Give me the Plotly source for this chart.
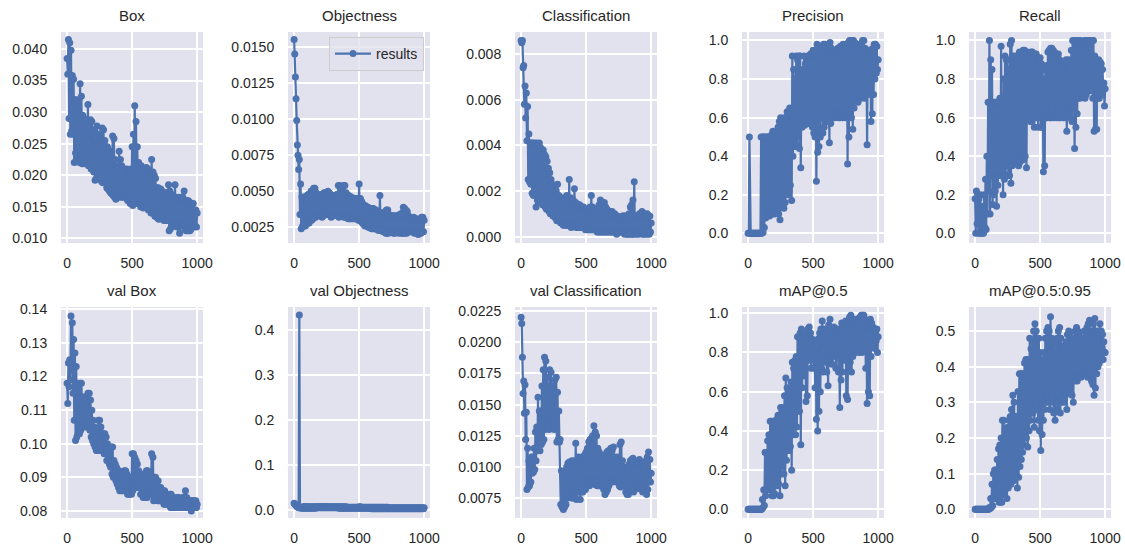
import plotly.graph_objects as go

# upper and lower envelopes: upper at epochs 0,10,...,1000; lower at 5,15,...,995
epochs_hi = list(range(0, 1001, 10))
epochs_lo = list(range(5, 1000, 10))

box_hi = [.0385,.0415,.041,.0398,.0358,.0352,.032,.0315,.031,.032,
 .0345,.0325,.0295,.029,.0285,.028,.0312,.0275,.0288,.0285,
 .0272,.027,.0255,.0278,.0265,.026,.0255,.0275,.0272,.0255,
 .0245,.0245,.024,.0235,.0232,.0262,.0258,.0225,.0215,.021,
 .0238,.0225,.0215,.021,.021,.0205,.021,.0205,.0205,.021,
 .0245,.0265,.031,.0285,.0245,.022,.0215,.0215,.021,.0208,
 .021,.0212,.021,.0205,.0205,.0225,.0205,.02,.0195,.018,
 .018,.0178,.0178,.0175,.0172,.017,.0172,.0172,.0185,.0175,
 .017,.0165,.0165,.0185,.0165,.016,.0165,.016,.0165,.0165,
 .0175,.016,.0158,.016,.0158,.0155,.0155,.0155,.0145,.0145,
 .014]
box_lo = [.036,.029,.0265,.027,.0265,.022,.0235,.0225,.0225,.022,
 .0225,.0218,.022,.0218,.022,.0218,.0215,.0215,.021,.021,
 .0205,.0192,.0195,.0205,.02,.0195,.019,.0188,.0195,.0188,
 .018,.0178,.0175,.0172,.017,.0168,.0165,.0162,.0168,.017,
 .0165,.0168,.0165,.0165,.017,.0168,.016,.016,.0155,.0155,
 .0152,.0158,.0165,.0155,.0155,.0155,.015,.015,.0148,.0152,
 .0155,.0148,.0145,.0145,.014,.014,.014,.0135,.0135,.0132,
 .013,.0132,.0132,.013,.0128,.0128,.0128,.0128,.0112,.0115,
 .012,.012,.012,.012,.0118,.0118,.0108,.012,.012,.012,
 .0115,.0112,.0112,.0112,.0112,.0115,.0118,.012,.012,.0118]

objectness_hi = [.0155,.0129,.0099,.0075,.0072,.0055,.0046,.0045,.0046,.0045,
 .0047,.0048,.0047,.005,.005,.0052,.0052,.0049,.0048,.0047,
 .0047,.0048,.0048,.0049,.0049,.0049,.005,.0049,.0048,.0047,
 .0047,.0047,.0047,.0048,.0054,.0054,.0052,.0052,.0054,.0054,
 .0049,.0047,.0047,.0046,.0046,.0045,.0045,.0045,.0045,.0045,
 .0055,.0045,.0043,.0041,.004,.004,.0039,.0039,.0038,.0038,
 .0038,.0038,.0037,.0037,.0036,.0036,.0047,.0035,.0034,.0035,
 .0036,.0037,.0037,.0034,.0033,.0033,.0033,.0033,.0032,.0033,
 .0033,.0034,.0034,.0035,.0039,.0038,.0037,.0036,.0033,.0031,
 .0031,.003,.0032,.003,.0031,.003,.003,.0031,.0032,.0032,
 .003]
objectness_lo = [.0145,.0114,.0082,.0065,.0034,.0024,.0026,.0026,.0026,.0027,
 .0028,.0028,.003,.003,.0031,.0032,.0032,.0033,.0033,.0033,
 .0033,.0032,.0033,.0034,.0034,.0034,.0035,.0034,.0032,.0033,
 .0033,.0034,.0034,.0033,.0032,.0033,.0033,.0033,.0032,.0032,
 .0032,.0031,.0031,.0031,.0031,.0031,.0031,.0031,.0031,.003,
 .003,.0029,.0028,.0027,.0026,.0026,.0026,.0025,.0025,.0024,
 .0024,.0024,.0024,.0024,.0023,.0023,.0023,.0023,.0022,.0022,
 .0021,.0021,.0021,.0022,.0022,.0022,.0021,.0021,.0022,.0022,
 .0021,.0022,.0021,.0021,.0021,.0021,.0021,.0022,.0022,.0022,
 .0022,.0022,.0021,.0022,.0021,.002,.0021,.0021,.0022,.0022]

classification_hi = [.0086,.0086,.0075,.0066,.0063,.0057,.0045,.0041,.0041,.0041,
 .0041,.004,.0041,.004,.0041,.0039,.0038,.0038,.0036,.0035,
 .0033,.003,.0028,.0025,.0023,.0021,.002,.002,.0023,.0018,
 .0017,.0017,.0016,.0015,.0016,.0018,.0017,.0025,.0017,.0016,
 .0016,.0021,.0015,.0014,.0014,.0014,.0013,.0013,.0013,.0012,
 .0012,.0012,.0012,.0013,.0018,.0013,.0012,.0012,.0012,.0012,
 .0014,.0016,.0015,.0014,.0015,.0013,.0012,.0011,.0011,.0011,
 .0011,.001,.001,.0009,.0009,.0008,.0008,.0008,.0009,.0009,
 .0009,.0009,.0009,.001,.0013,.0014,.0016,.0024,.0009,.0009,
 .0009,.001,.001,.0011,.001,.001,.0009,.001,.0009,.0009,
 .0006]
classification_lo = [.0085,.0074,.0058,.0052,.0042,.0025,.0024,.0023,.0019,.0018,
 .002,.0013,.0016,.0016,.0015,.0015,.0014,.0014,.0013,.0012,
 .0012,.0011,.001,.001,.0009,.0009,.0008,.0007,.0007,.0007,
 .0006,.0006,.0005,.0005,.0005,.0005,.0005,.0005,.0004,.0005,
 .0005,.0005,.0004,.0004,.0004,.0004,.0004,.0004,.0004,.0003,
 .0003,.0003,.0003,.0003,.0003,.0003,.0003,.0003,.0002,.0002,
 .0002,.0002,.0002,.0002,.0002,.0002,.0002,.0002,.0002,.0002,
 .0002,.0002,.0002,.0001,.0002,.0002,.0002,.0002,.0002,.0001,
 .0002,.0001,.0001,.0002,.0001,.0001,.0001,.0002,.0001,.0002,
 .0001,.0002,.0002,.0001,.0001,.0002,.0001,.0002,.0001,.0002]

precision_hi = [0,.5,0,0,0,0,0,0,0,0,
 .5,.5,.5,.5,.5,.5,.5,.5,.51,.53,
 .52,.52,.53,.55,.58,.6,.58,.58,.6,.6,
 .63,.62,.65,.62,.92,.85,.8,.92,.9,.92,
 .92,.82,.85,.92,.88,.9,.92,.92,.93,.93,
 .95,.93,.95,.98,.97,.93,.92,.95,.98,.98,
 .96,.95,.97,.99,.96,.95,.94,.95,.95,.96,
 .95,.97,.96,.98,.97,.97,.98,.99,1,1,
 1,1,.99,.97,.97,.98,.97,.98,1,1,
 .96,.94,.93,.95,.95,.94,.96,.98,.98,.97,
 .9]
precision_lo = [0,0,0,0,0,0,0,0,0,0,
 0,.005,.03,.08,.1,.1,.09,.1,.1,.12,
 .1,.14,.12,.1,.07,.16,.18,.13,.16,.2,
 .2,.22,.25,.17,.4,.45,.45,.46,.5,.44,
 .34,.55,.6,.56,.58,.58,.57,.57,.58,.55,
 .52,.5,.27,.42,.45,.5,.6,.52,.55,.58,
 .6,.58,.47,.57,.6,.62,.6,.62,.62,.6,
 .6,.62,.6,.62,.6,.62,.36,.5,.62,.6,
 .54,.65,.7,.7,.68,.7,.7,.72,.75,.7,
 .72,.46,.72,.75,.58,.62,.72,.8,.83,.85]

recall_hi = [.18,.22,.2,.18,.2,.14,.1,.2,.28,.4,
 .68,1.0,.9,.85,.68,.68,.68,.68,.68,.7,
 .97,.7,.8,.92,.9,.9,.85,.98,1.0,.92,
 .9,.92,.88,.9,.94,.93,.94,.95,.95,.94,
 .94,.9,.93,.94,.94,.92,.93,.93,.88,.9,
 .91,.88,.85,.8,.85,.87,.94,.95,.96,.96,
 .95,.94,.93,.92,.93,.9,.85,.88,.85,.88,
 .9,.88,.9,.85,.95,1,1,.98,1,1,
 1,1,.98,.96,1,1,1,1,1,1,
 1,1,.92,.9,.88,.9,.89,.88,.85,.78,
 .75]
recall_lo = [0,.05,0,0,0,0,0,.03,.02,.1,
 .22,.1,.3,.15,.2,.22,.14,.25,.3,.3,
 .3,.2,.28,.3,.35,.3,.3,.26,.35,.4,
 .38,.36,.36,.35,.37,.4,.38,.4,.4,.34,
 .6,.6,.58,.58,.6,.55,.6,.6,.55,.6,
 .55,.55,.32,.35,.6,.6,.62,.6,.6,.65,
 .6,.62,.6,.62,.6,.6,.62,.6,.6,.65,
 .53,.62,.65,.6,.58,.65,.44,.55,.62,.7,
 .7,.72,.72,.75,.7,.72,.75,.76,.74,.75,
 .7,.53,.54,.54,.7,.7,.72,.72,.75,.66]

val_box_hi = [.118,.124,.125,.138,.136,.131,.127,.123,.118,.116,
 .118,.118,.114,.112,.112,.114,.115,.115,.113,.11,
 .107,.105,.104,.102,.107,.107,.105,.103,.103,.103,
 .102,.1,.099,.098,.099,.099,.095,.094,.093,.092,
 .092,.091,.09,.091,.092,.092,.091,.09,.09,.089,
 .097,.097,.096,.095,.094,.092,.09,.089,.09,.091,
 .09,.092,.092,.09,.091,.097,.096,.09,.09,.088,
 .089,.087,.087,.086,.086,.086,.085,.085,.084,.085,
 .085,.084,.082,.083,.084,.084,.084,.083,.083,.084,
 .084,.086,.084,.083,.083,.083,.083,.083,.083,.083,
 .082]
val_box_lo = [.112,.117,.119,.122,.115,.107,.101,.102,.103,.103,
 .104,.105,.105,.106,.105,.106,.106,.104,.102,.101,
 .1,.099,.098,.098,.098,.099,.098,.098,.097,.097,
 .095,.095,.094,.093,.091,.09,.09,.089,.088,.087,
 .086,.086,.086,.086,.086,.086,.085,.085,.085,.085,
 .086,.087,.087,.088,.087,.087,.085,.085,.084,.085,
 .084,.084,.085,.085,.085,.085,.083,.084,.084,.083,
 .083,.083,.083,.083,.082,.082,.082,.082,.082,.081,
 .081,.082,.081,.081,.081,.082,.081,.081,.081,.081,
 .081,.081,.081,.081,.081,.08,.081,.081,.081,.081]

val_objectness_hi = [.015,.012,.008,.006,.433,.006,.006,.007,.008,.007,
 .007,.007,.007,.007,.007,.007,.007,.007,.007,.007,
 .008,.008,.008,.008,.008,.007,.007,.007,.007,.007,
 .007,.007,.007,.007,.007,.007,.007,.007,.007,.007,
 .007,.006,.006,.006,.006,.006,.006,.006,.006,.006,
 .007,.007,.006,.006,.006,.006,.006,.006,.006,.006,
 .006,.006,.006,.006,.006,.006,.006,.006,.006,.006,
 .006,.006,.006,.005,.005,.005,.005,.005,.005,.005,
 .005,.005,.005,.005,.005,.005,.005,.005,.005,.005,
 .005,.005,.005,.005,.005,.005,.005,.005,.005,.005,
 .005]
val_objectness_lo = [.014,.01,.007,.005,.005,.004,.004,.004,.004,.004,
 .004,.004,.004,.004,.004,.004,.004,.005,.005,.005,
 .005,.005,.005,.005,.005,.005,.005,.005,.005,.005,
 .005,.005,.005,.005,.004,.004,.004,.004,.004,.004,
 .004,.004,.004,.004,.004,.004,.004,.004,.004,.004,
 .004,.004,.004,.004,.004,.004,.004,.004,.004,.003,
 .003,.003,.003,.003,.003,.003,.003,.003,.003,.003,
 .003,.003,.003,.003,.003,.003,.003,.003,.003,.003,
 .003,.003,.003,.003,.003,.003,.003,.003,.003,.003,
 .003,.003,.003,.003,.003,.003,.003,.003,.003,.003]

val_classification_hi = [.022,.0188,.0169,.0166,.0144,.0115,.0105,.0105,.0108,.0108,
 .0115,.0128,.0132,.0156,.0145,.0145,.0165,.0178,.0188,.0185,
 .0172,.0165,.0178,.0176,.0165,.016,.017,.0172,.016,.0145,
 .0122,.0097,.0092,.0096,.0095,.01,.0103,.0104,.0102,.0105,
 .0103,.0105,.0119,.0105,.0108,.0107,.0105,.0108,.0108,.011,
 .0112,.0115,.012,.0122,.0123,.0125,.0133,.0128,.0125,.0115,
 .0112,.011,.0108,.0105,.0108,.011,.0112,.0113,.0112,.0115,
 .0113,.0116,.0108,.0105,.0108,.0105,.0118,.012,.0105,.01,
 .0097,.0098,.0098,.0102,.0105,.0106,.0107,.0102,.01,.0098,
 .0105,.0106,.0102,.01,.0103,.0098,.0105,.0108,.0112,.0106,
 .0095]
val_classification_lo = [.0215,.0159,.0143,.0122,.0082,.0084,.0085,.0088,.0095,.0096,
 .0098,.0105,.0113,.0115,.0113,.0118,.012,.0122,.013,.0135,
 .0138,.013,.0135,.0138,.0132,.013,.0132,.012,.0122,.012,
 .007,.0068,.0066,.0068,.007,.0075,.0078,.0078,.0078,.0075,
 .008,.0078,.0074,.008,.0082,.0074,.008,.008,.0082,.0082,
 .0088,.0085,.0085,.0088,.009,.0088,.0086,.0088,.0085,.0085,
 .0085,.0088,.0085,.0082,.0078,.008,.0082,.0085,.0088,.009,
 .0088,.009,.009,.0088,.0088,.0085,.0084,.0086,.0085,.0085,
 .008,.0078,.0078,.008,.0085,.0082,.008,.0082,.0085,.0083,
 .0085,.0083,.0082,.008,.0084,.0082,.0078,.0082,.0088,.0088]

map50_hi = [0,0,0,0,0,0,0,0,0,0,
 0,.05,.1,.29,.29,.35,.38,.45,.45,.43,
 .45,.44,.46,.48,.48,.52,.5,.52,.58,.67,
 .62,.6,.58,.65,.75,.72,.76,.78,.88,.88,
 .9,.92,.88,.9,.88,.9,.92,.93,.9,.87,
 .86,.85,.86,.82,.87,.9,.92,.96,.92,.88,
 .9,.92,.94,.97,.92,.9,.93,.92,.9,.92,
 .88,.92,.95,.93,.95,.96,.94,.94,.98,.99,
 .96,.94,.95,.97,.97,.96,.98,.99,.99,.99,
 .97,.95,.93,.94,.97,.95,.93,.92,.9,.92,
 .88]
map50_lo = [0,0,0,0,0,0,0,0,0,0,
 0,.01,.02,.07,.1,.13,.1,.12,.07,.07,
 .08,.12,.12,.13,.07,.18,.22,.18,.12,.25,
 .3,.3,.32,.2,.38,.42,.38,.42,.5,.5,
 .33,.62,.68,.7,.55,.58,.78,.76,.72,.78,
 .72,.62,.46,.4,.5,.6,.72,.7,.78,.75,
 .7,.63,.78,.75,.74,.78,.8,.72,.8,.7,
 .52,.66,.7,.78,.76,.58,.56,.72,.75,.7,
 .78,.8,.8,.82,.82,.8,.82,.8,.82,.84,
 .72,.54,.6,.58,.78,.84,.85,.82,.86,.8]

map5095_hi = [0,0,0,0,0,0,0,0,0,0,
 0,.005,.03,.07,.1,.11,.11,.14,.17,.18,
 .2,.25,.25,.22,.22,.23,.25,.26,.28,.32,
 .3,.26,.26,.33,.38,.38,.38,.38,.41,.42,
 .42,.42,.48,.45,.47,.5,.52,.5,.48,.48,
 .44,.42,.41,.44,.48,.5,.51,.5,.54,.48,
 .47,.44,.46,.48,.5,.51,.48,.44,.45,.46,
 .47,.49,.5,.49,.46,.47,.48,.5,.51,.5,
 .49,.48,.47,.48,.5,.5,.51,.52,.53,.5,
 .5,.52,.535,.5,.48,.5,.52,.5,.49,.47,
 .44]
map5095_lo = [0,0,0,0,0,0,0,0,0,0,
 0,.002,.005,.01,.03,.04,.03,.04,.02,.02,
 .02,.04,.05,.06,.03,.06,.07,.07,.08,.08,
 .1,.09,.06,.09,.12,.14,.16,.18,.2,.2,
 .175,.22,.25,.27,.27,.23,.3,.28,.25,.22,
 .165,.21,.25,.28,.3,.32,.3,.28,.32,.3,
 .27,.25,.3,.28,.3,.27,.3,.32,.3,.32,
 .28,.33,.35,.34,.32,.3,.36,.37,.36,.37,
 .38,.37,.38,.38,.38,.38,.37,.39,.38,.36,
 .35,.32,.34,.38,.4,.41,.42,.42,.42,.44]

titles = ["Box","Objectness","Classification","Precision","Recall",
          "val Box","val Objectness","val Classification","mAP@0.5","mAP@0.5:0.95"]
series = [(box_hi,box_lo),(objectness_hi,objectness_lo),(classification_hi,classification_lo),
          (precision_hi,precision_lo),(recall_hi,recall_lo),
          (val_box_hi,val_box_lo),(val_objectness_hi,val_objectness_lo),
          (val_classification_hi,val_classification_lo),(map50_hi,map50_lo),(map5095_hi,map5095_lo)]
y_ticks = [
 ["0.010","0.015","0.020","0.025","0.030","0.035","0.040"],
 ["0.0025","0.0050","0.0075","0.0100","0.0125","0.0150"],
 ["0.000","0.002","0.004","0.006","0.008"],
 ["0.0","0.2","0.4","0.6","0.8","1.0"],
 ["0.0","0.2","0.4","0.6","0.8","1.0"],
 ["0.08","0.09","0.10","0.11","0.12","0.13","0.14"],
 ["0.0","0.1","0.2","0.3","0.4"],
 ["0.0075","0.0100","0.0125","0.0150","0.0175","0.0200","0.0225"],
 ["0.0","0.2","0.4","0.6","0.8","1.0"],
 ["0.0","0.1","0.2","0.3","0.4","0.5"],
]
y_ranges = [[.00925,.0427],[.00142,.01602],[-.00028,.00897],[-.05,1.044],[-.05,1.044],
            [.0779,.1407],[-.0178,.451],[.00592,.02282],[-.044,1.032],[-.0244,.5673]]
x_ticks = [0,500,1000]

W, H = 1125, 547
col_px = [(61,203),(288,430),(515,657),(742,884),(969,1111)]
row_px = [(32,243),(307,518)]
COLOR = "#4c72b0"
INK = "#262626"

def zigzag(a, b):
    out = []
    for p, q in zip(a, b):
        out += [p, q]
    return out + list(a[len(b):])

epochs = zigzag(epochs_hi, epochs_lo)

fig = go.Figure()
annotations = []
layout_axes = {}
for i, (name, (hi, lo)) in enumerate(zip(titles, series)):
    r, c = divmod(i, 5)
    n = i + 1
    suffix = "" if n == 1 else str(n)
    fig.add_trace(go.Scatter(
        x=epochs, y=zigzag(hi, lo), mode="lines+markers", name="results",
        line=dict(color=COLOR, width=2.2), marker=dict(color=COLOR, size=7),
        xaxis="x"+suffix, yaxis="y"+suffix, showlegend=(i == 1), hoverinfo="skip"))
    x0, x1 = col_px[c]
    y0, y1 = row_px[r]
    layout_axes["xaxis"+suffix] = dict(
        domain=[x0/W, x1/W], anchor="y"+suffix, range=[-47, 1045],
        tickvals=x_ticks, ticktext=[str(t) for t in x_ticks],
        showgrid=True, gridcolor="white", gridwidth=1.5, zeroline=False, showline=False,
        ticks="outside", ticklen=7, tickcolor="rgba(0,0,0,0)",
        tickfont=dict(size=14, color=INK))
    layout_axes["yaxis"+suffix] = dict(
        domain=[1-y1/H, 1-y0/H], anchor="x"+suffix, range=y_ranges[i],
        tickvals=[float(t) for t in y_ticks[i]], ticktext=y_ticks[i],
        showgrid=True, gridcolor="white", gridwidth=1.5, zeroline=False, showline=False,
        ticks="outside", ticklen=10, tickcolor="rgba(0,0,0,0)",
        tickfont=dict(size=14, color=INK))
    annotations.append(dict(
        text=name, x=(x0+x1)/2/W, y=1-(y0-6)/H, xref="paper", yref="paper",
        xanchor="center", yanchor="bottom", showarrow=False,
        font=dict(size=15, color=INK)))

fig.update_layout(
    width=W, height=H, margin=dict(l=0, r=0, t=0, b=0, autoexpand=False),
    paper_bgcolor="white", plot_bgcolor="#e2e2ee",
    font=dict(family="Liberation Sans, Arial, sans-serif", size=14, color=INK),
    annotations=annotations,
    legend=dict(x=424/W, y=1-37/H, xanchor="right", yanchor="top",
                bgcolor="rgba(226,226,238,0.8)", bordercolor="#cccccc", borderwidth=1,
                font=dict(size=14, color=INK), itemwidth=36),
    **layout_axes)

fig.write_html("out.html", config={"displayModeBar": False},
               post_script="document.body.style.margin='0';")
